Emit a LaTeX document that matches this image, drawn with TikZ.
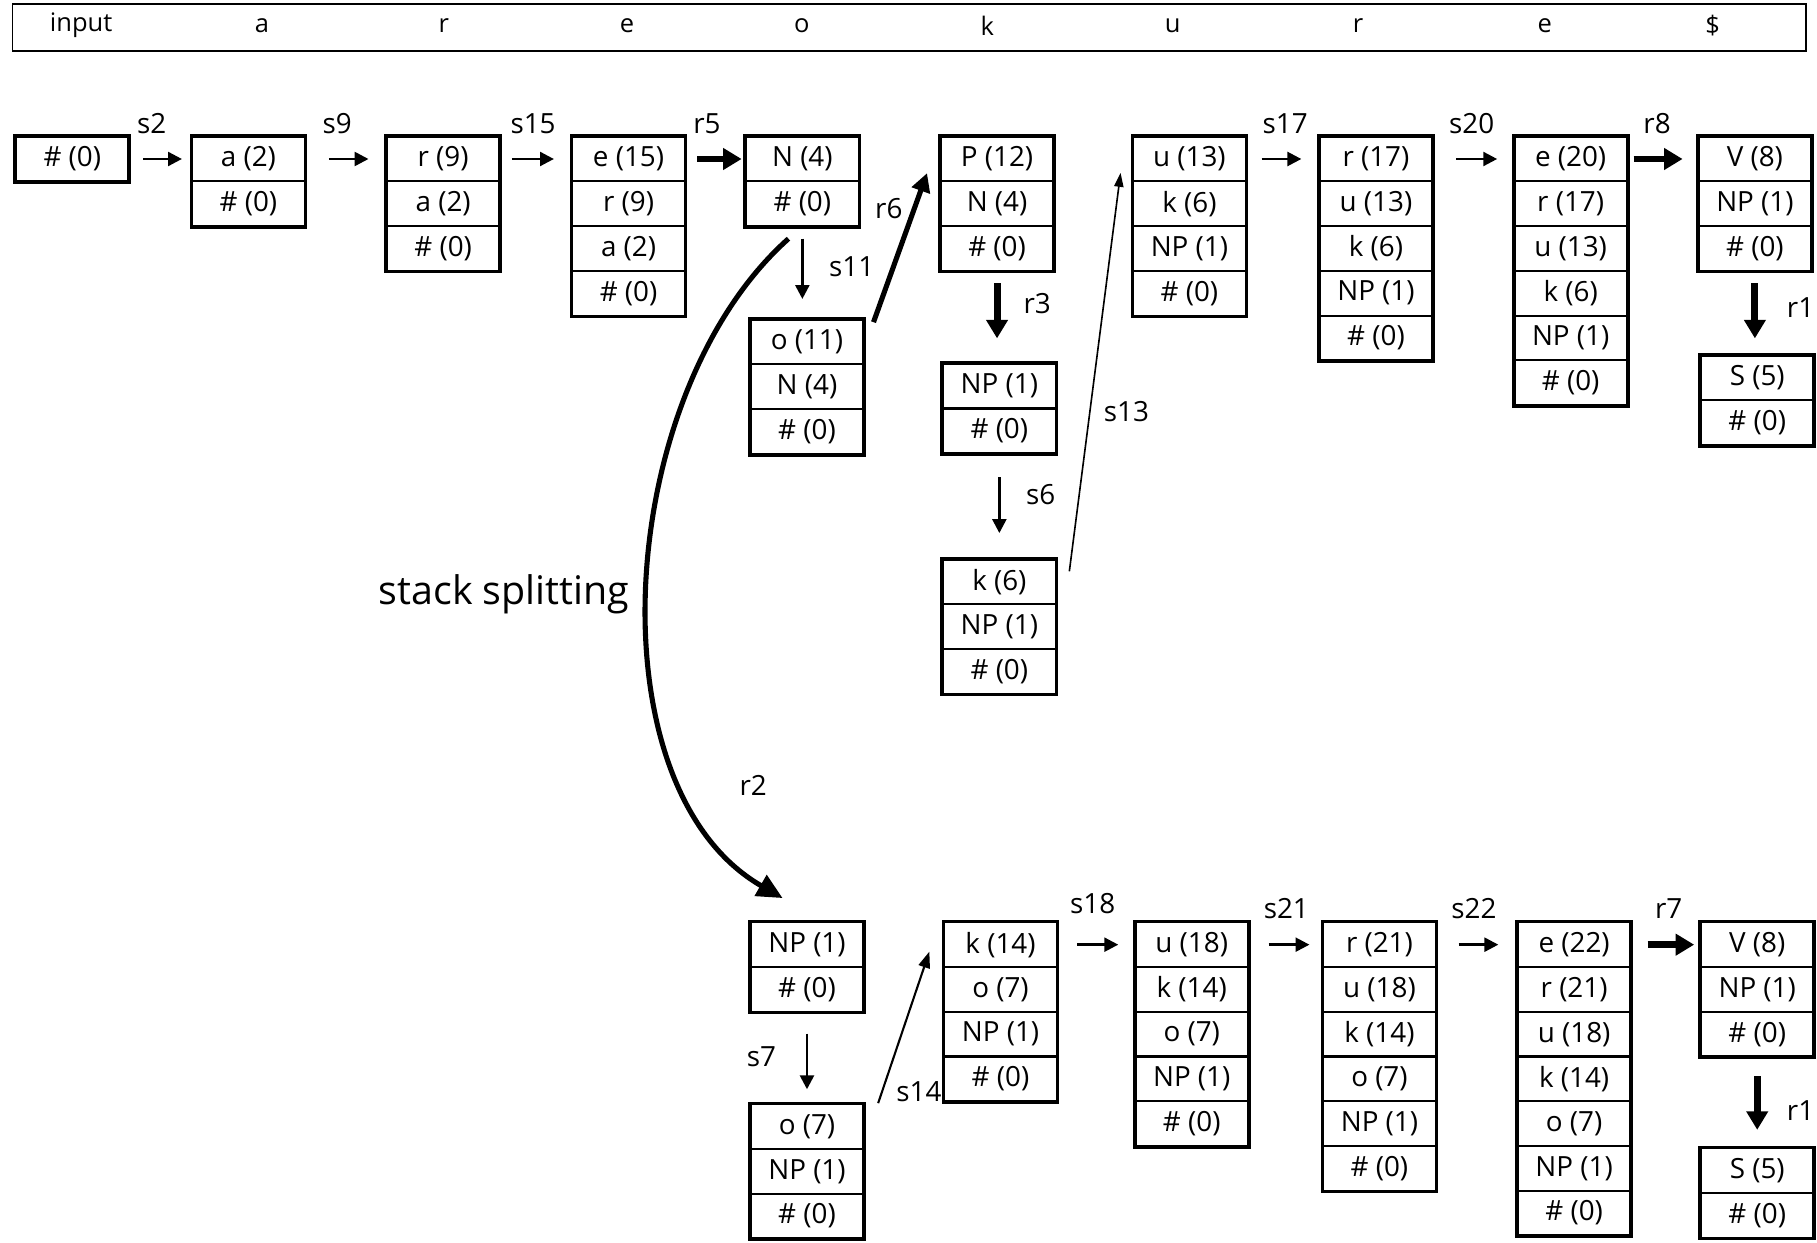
\documentclass[tikz,border=0pt]{standalone}
\usepackage{fontspec}
\setmainfont{Open Sans}
\usetikzlibrary{arrows.meta,calc,fit}
\tikzset{
  cell/.style={draw, line width=0.9pt, minimum width=48.5pt, minimum height=19.3pt,
    inner sep=0pt, font=\fontsize{12}{14}\selectfont, anchor=north west},
  frame/.style={draw, line width=1.4pt, inner sep=0pt},
  lab/.style={font=\fontsize{12}{14}\selectfont, inner sep=0pt},
  inp/.style={font=\fontsize{11}{13}\selectfont, inner sep=0pt},
  sarr/.style={line width=1.1pt, -{Triangle[length=6pt,width=6pt]}},
  rarr/.style={line width=3pt, -{Triangle[length=8pt,width=9pt]}},
  fine/.style={line width=0.7pt, -{Triangle[length=6pt,width=4pt]}},
  split/.style={line width=2.2pt, -{Triangle[length=11pt,width=10pt]}},
}
\newcommand\stk[4]{%
  \foreach \txt [count=\i] in {#4} {
    \node[cell] (#1-\i) at ($(#2)+(0,{(\i-1)*38.6})$) {\txt};
  }
  \node[frame, fit=(#1-1)(#1-#3)] (#1) {};
}
\begin{document}
\begin{tikzpicture}[x=0.5pt,y=-0.5pt]
\useasboundingbox (0,0) rectangle (1568,1072);
% input bar
\node[draw, line width=0.8pt, minimum width=774pt, minimum height=20pt, inner sep=0pt, anchor=north west] (bar) at (10,3) {};
\node[inp] (in0) at (70,22) {input};
\node[inp] (in1) at (226,22) {a};
\node[inp] (in2) at (383,22) {r};
\node[inp] (in3) at (541,22) {e};
\node[inp] (in4) at (692,22) {o};
\node[inp] (in5) at (852,22) {k};
\node[inp] (in6) at (1012,22) {u};
\node[inp] (in7) at (1172,22) {r};
\node[inp] (in8) at (1333,22) {e};
\node[inp] (in9) at (1478,22) {\$};
% stacks, top
\stk{Z}{13,117}{1}{{\# (0)}}
\stk{A}{165,117}{2}{{a (2)},{\# (0)}}
\stk{R}{333,117}{3}{{r (9)},{a (2)},{\# (0)}}
\stk{E}{493,117}{4}{{e (15)},{r (9)},{a (2)},{\# (0)}}
\stk{N}{643,117}{2}{{N (4)},{\# (0)}}
\stk{P}{811,117}{3}{{P (12)},{N (4)},{\# (0)}}
\stk{U}{977,117}{4}{{u (13)},{k (6)},{NP (1)},{\# (0)}}
\stk{RR}{1138,117}{5}{{r (17)},{u (13)},{k (6)},{NP (1)},{\# (0)}}
\stk{EE}{1306,117}{6}{{e (20)},{r (17)},{u (13)},{k (6)},{NP (1)},{\# (0)}}
\stk{V}{1465,117}{3}{{V (8)},{NP (1)},{\# (0)}}
\stk{S}{1467,306}{2}{{S (5)},{\# (0)}}
\stk{O}{647,275}{3}{{o (11)},{N (4)},{\# (0)}}
\stk{NP}{813,313}{2}{{NP (1)},{\# (0)}}
\stk{K}{813,482}{3}{{k (6)},{NP (1)},{\# (0)}}
% stacks, bottom
\stk{NPb}{647,795}{2}{{NP (1)},{\# (0)}}
\stk{Ob}{647,952}{3}{{o (7)},{NP (1)},{\# (0)}}
\stk{Kb}{814,795}{4}{{k (14)},{o (7)},{NP (1)},{\# (0)}}
\stk{Ub}{979,795}{5}{{u (18)},{k (14)},{o (7)},{NP (1)},{\# (0)}}
\stk{Rb}{1141,795}{6}{{r (21)},{u (18)},{k (14)},{o (7)},{NP (1)},{\# (0)}}
\stk{Eb}{1309,795}{7}{{e (22)},{r (21)},{u (18)},{k (14)},{o (7)},{NP (1)},{\# (0)}}
\stk{Vb}{1467,795}{3}{{V (8)},{NP (1)},{\# (0)}}
\stk{Sb}{1467,990}{2}{{S (5)},{\# (0)}}
% horizontal arrows
\draw[sarr, shorten <=6pt, shorten >=4pt] (Z-1.east) -- (A-1.west);
\draw[sarr, shorten <=10pt, shorten >=7.5pt] (A-1.east) -- (R-1.west);
\draw[sarr, shorten <=5pt, shorten >=7.5pt] (R-1.east) -- (E-1.west);
\draw[rarr, shorten <=5pt, shorten >=1.5pt] (E-1.east) -- (N-1.west);
\draw[sarr, shorten <=6.5pt, shorten >=7.5pt] (U-1.east) -- (RR-1.west);
\draw[sarr, shorten <=10pt, shorten >=7pt] (RR-1.east) -- (EE-1.west);
\draw[rarr, shorten <=2.5pt, shorten >=6.5pt] (EE-1.east) -- (V-1.west);
\draw[sarr, shorten <=8.5pt, shorten >=7pt] (Kb-1.east) -- (Ub-1.west);
\draw[sarr, shorten <=8.5pt, shorten >=5.5pt] (Ub-1.east) -- (Rb-1.west);
\draw[sarr, shorten <=9.5pt, shorten >=8pt] (Rb-1.east) -- (Eb-1.west);
\draw[rarr, shorten <=7pt, shorten >=2.5pt] (Eb-1.east) -- (Vb-1.west);
% vertical arrows
\draw[sarr, shorten <=5pt, shorten >=8.5pt] (N-2.south) -- (N-2.south |- O-1.north);
\draw[rarr, shorten <=5pt, shorten >=10.5pt] (P-3.south) -- (P-3.south |- NP-1.north);
\draw[sarr, shorten <=10pt, shorten >=11pt] (NP-2.south) -- (NP-2.south |- K-1.north);
\draw[rarr, shorten <=5pt, shorten >=7pt] (V-3.south) -- (V-3.south |- S-1.north);
\draw[sarr, shorten <=9pt, shorten >=6pt] (NPb-2.south) -- (NPb-2.south |- Ob-1.north);
\draw[rarr, shorten <=8pt, shorten >=7.5pt] (Vb-3.south) -- (Vb-3.south |- Sb-1.north);
% slanted arrows
\draw[line width=2.2pt, -{Triangle[length=8pt,width=8pt]}] ($(O-1.north east)+(8,3)$) -- ($(P-1.south west)+(-11,-8)$);
\draw[fine] ($(K-1.north east)+(11,11)$) -- ($(U-1.west)+(-10,12)$);
\draw[line width=0.9pt, -{Triangle[length=7pt,width=5pt]}] ($(Ob-1.north east)+(12,0)$) -- ($(Kb-1.west)+(-12,6)$);
% stack splitting
\draw[split] ($(N-2.south)+(-12,10)$) .. controls (530,340) and (510,680) .. ($(NPb-1.north)+(-21,-20)$);
% labels
\node[lab] (l1) at (131,107) {s2};
\node[lab] (l2) at (291,107) {s9};
\node[lab] (l3) at (460,107) {s15};
\node[lab] (l4) at (610,107) {r5};
\node[lab] (l5) at (735,230) {s11};
\node[lab] (l6) at (767,180) {r6};
\node[lab] (l7) at (895,262) {r3};
\node[lab] (l8) at (898,427) {s6};
\node[lab] (l9) at (972,355) {s13};
\node[lab] (l10) at (1109,107) {s17};
\node[lab] (l11) at (1270,107) {s20};
\node[lab] (l12) at (1430,107) {r8};
\node[lab, anchor=east] (l13) at (1566,265) {r1};
\node[lab] (l14) at (650,678) {r2};
\node[font=\fontsize{17}{20}\selectfont, inner sep=0pt] (l15) at (435,513) {stack splitting};
\node[lab] (l16) at (657,912) {s7};
\node[lab] (l17) at (793,942) {s14};
\node[lab] (l18) at (943,780) {s18};
\node[lab] (l19) at (1110,784) {s21};
\node[lab] (l20) at (1272,784) {s22};
\node[lab] (l21) at (1440,784) {r7};
\node[lab, anchor=east] (l22) at (1566,958) {r1};
\end{tikzpicture}
\end{document}
